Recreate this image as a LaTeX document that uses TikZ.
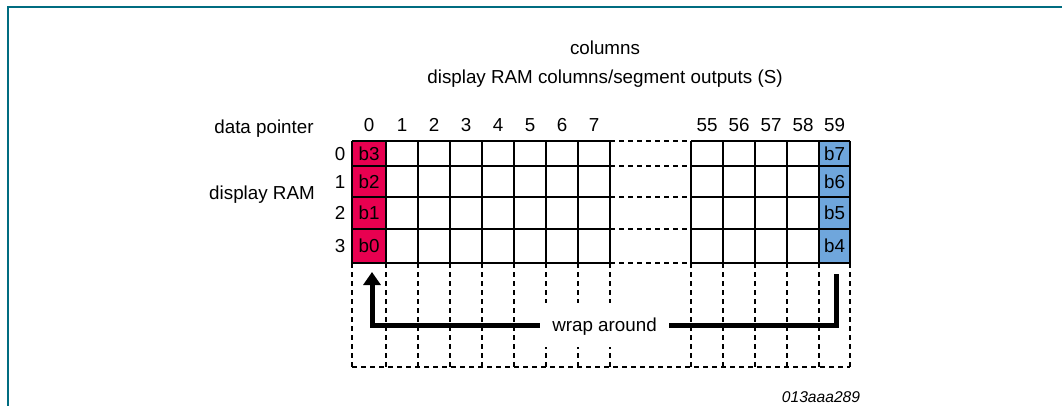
\documentclass[tikz,border=0pt]{standalone}
\usepackage{fontspec}
\setmainfont{Liberation Sans}
\usetikzlibrary{arrows.meta,positioning}
\definecolor{framecol}{RGB}{0,108,128}
\definecolor{ramred}{RGB}{232,0,80}
\definecolor{ramblue}{RGB}{111,166,220}

\begin{document}
\begin{tikzpicture}[x=1pt,y=-1pt,
  every node/.style={font=\fontsize{18.8}{22}\selectfont,inner sep=0pt,text height=13.5pt,text depth=0pt},
  grid/.style={line width=1.4pt},
  gap/.style={line width=1.4pt,dash pattern=on 5pt off 4pt},
  wrapline/.style={line width=5pt},
  redcell/.style={fill=ramred,minimum width=34pt},
  bluecell/.style={fill=ramblue,minimum width=31pt}]
  \useasboundingbox (0,0) rectangle (1062,406);
  \draw[framecol,line width=1.6pt] (8,406) |- (1062,7);

  % headings
  \node (segs) at (605,77) {display RAM columns/segment outputs (S)};
  \node (cols) [above=15pt of segs] {columns};
  \node (ptr) at (264,127) {data pointer};
  \node (ram) at (262,193) {display RAM};

  % coloured cells and row numbers
  \foreach \t/\b/\lo/\hi/\r in {141/166/b3/b7/0,166/197/b2/b6/1,197/229/b1/b5/2,229/263/b0/b4/3}{
    \pgfmathsetmacro\h{\b-\t}
    \node[redcell,minimum height=\h pt] (\lo) at (369,{(\t+\b)/2}) {\lo};
    \node[bluecell,minimum height=\h pt] (\hi) at (834.5,{(\t+\b)/2}) {\hi};
    \node (row\r) at (340,{(\t+\b)/2}) {\r};
  }

  % column numbers
  \foreach \n/\x in {0/369,1/402,2/434,3/466,4/498,5/530,6/562,7/594,55/707,56/739,57/771,58/803,59/834.5}
    \node (col\n) at (\x,125) {\n};

  % grid
  \foreach \y in {141,166,197,229,263}{
    \draw[grid] (352,\y) -- (610,\y);
    \draw[grid] (691,\y) -- (850,\y);
    \draw[gap] (610,\y) -- (691,\y);
  }
  \foreach \x in {352,386,418,450,482,514,546,578,610,691,723,755,787,819,850}{
    \draw[gap] (\x,263) -- (\x,367);
  }
  \foreach \x in {352,386,418,450,482,514,546,578,610}
    \draw[grid] (\x,141) -- (\x,263);
  \foreach \x in {691,723,755,787,819,850}
    \draw[grid] (\x,141) -- (\x,263);
  \draw[gap] (352,367) -- (850,367);

  % wrap around
  \node[fill=white,minimum width=129pt,minimum height=44pt] (wrap) at (604.5,325) {wrap around};
  \coordinate (from) at (836,274);
  \coordinate (to) at (372,272);
  \draw[wrapline] (from) |- (wrap.east);
  \draw[wrapline,-{Triangle[length=13pt,width=17pt]}] (wrap.west) -| (to);

  \node[font=\fontsize{15.6}{18}\selectfont\itshape] (figid) at (821,396) {013aaa289};
\end{tikzpicture}
\end{document}
